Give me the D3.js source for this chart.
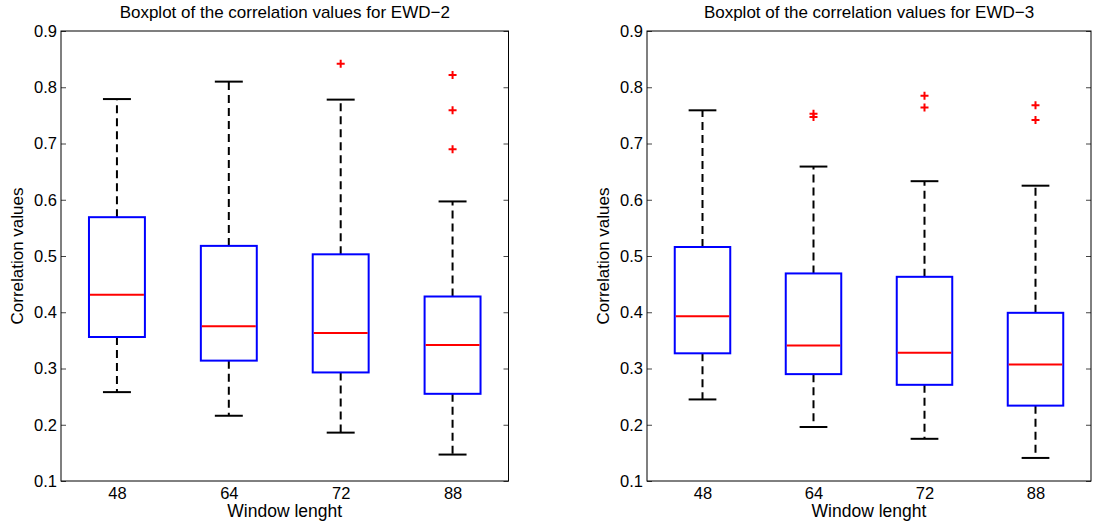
<!DOCTYPE html>
<html>
<head>
<meta charset="utf-8">
<script src="https://cdn.jsdelivr.net/npm/d3@7/dist/d3.min.js"></script>
<style>
  html, body { margin: 0; padding: 0; background: #fff; }
  svg { display: block; font-family: "Liberation Sans", Arial, Helvetica, sans-serif; }
</style>
</head>
<body>
<svg id="chart" width="1097" height="522"></svg>
<script>
// Window lengths on the x axis
const windowLengths = ["48", "64", "72", "88"];
const yTicks = [0.1, 0.2, 0.3, 0.4, 0.5, 0.6, 0.7, 0.8, 0.9];

// EWD-2 box statistics
const ewd2Lower  = [0.258, 0.216, 0.186, 0.147];
const ewd2Q1     = [0.356, 0.314, 0.293, 0.255];
const ewd2Median = [0.431, 0.375, 0.363, 0.342];
const ewd2Q3     = [0.569, 0.518, 0.503, 0.428];
const ewd2Upper  = [0.779, 0.810, 0.778, 0.597];
const ewd2Outliers = [[], [], [0.842], [0.822, 0.759, 0.690]];

// EWD-3 box statistics
const ewd3Lower  = [0.245, 0.196, 0.175, 0.141];
const ewd3Q1     = [0.327, 0.290, 0.271, 0.234];
const ewd3Median = [0.393, 0.341, 0.328, 0.307];
const ewd3Q3     = [0.516, 0.469, 0.463, 0.399];
const ewd3Upper  = [0.759, 0.659, 0.633, 0.625];
const ewd3Outliers = [[], [0.753, 0.747], [0.785, 0.764], [0.768, 0.742]];

const panels = [
  { title: "Boxplot of the correlation values for EWD\u22122", left: 61, right: 508.5,
    lower: ewd2Lower, q1: ewd2Q1, median: ewd2Median, q3: ewd2Q3, upper: ewd2Upper, outliers: ewd2Outliers },
  { title: "Boxplot of the correlation values for EWD\u22123", left: 647, right: 1091,
    lower: ewd3Lower, q1: ewd3Q1, median: ewd3Median, q3: ewd3Q3, upper: ewd3Upper, outliers: ewd3Outliers }
];

const plotTop = 31, plotBottom = 481;
const svg = d3.select("#chart");

panels.forEach(p => {
  const g = svg.append("g");
  const x = d3.scalePoint().domain(windowLengths).range([p.left, p.right]).padding(0.5);
  const y = d3.scaleLinear().domain([0.1, 0.9]).range([plotBottom, plotTop]);
  const step = x.step();
  const boxW = step * 0.5;
  const capW = boxW * 0.5;

  // Left axis: inward ticks with labels
  const yAxis = g.append("g").attr("transform", `translate(${p.left},0)`)
    .call(d3.axisLeft(y).tickValues(yTicks).tickFormat(d3.format(".1f"))
      .tickSizeInner(-5).tickSizeOuter(0).tickPadding(4));
  yAxis.select(".domain").remove();
  yAxis.selectAll(".tick line").attr("stroke", "#444");
  yAxis.selectAll(".tick text").attr("font-size", 16.5).attr("fill", "#000");

  // Right axis: mirrored inward ticks
  const yAxisR = g.append("g").attr("transform", `translate(${p.right},0)`)
    .call(d3.axisRight(y).tickValues(yTicks).tickFormat("")
      .tickSizeInner(-5).tickSizeOuter(0));
  yAxisR.select(".domain").remove();
  yAxisR.selectAll(".tick line").attr("stroke", "#444");

  // Bottom axis labels (no tick marks)
  const xAxis = g.append("g").attr("transform", `translate(0,${plotBottom})`)
    .call(d3.axisBottom(x).tickSize(0).tickPadding(6));
  xAxis.select(".domain").remove();
  xAxis.selectAll(".tick text").attr("font-size", 16.5).attr("fill", "#000");

  // Frame
  g.append("rect")
    .attr("x", p.left).attr("y", plotTop)
    .attr("width", p.right - p.left).attr("height", plotBottom - plotTop)
    .attr("fill", "none").attr("stroke", "#000").attr("stroke-width", 1);

  const boxes = g.selectAll(".box").data(windowLengths).join("g").attr("class", "box");

  // Whiskers (dashed)
  boxes.append("line")
    .attr("x1", d => x(d)).attr("x2", d => x(d))
    .attr("y1", (d, i) => y(p.q3[i])).attr("y2", (d, i) => y(p.upper[i]))
    .attr("stroke", "#000").attr("stroke-width", 2).attr("stroke-dasharray", "8,5");
  boxes.append("line")
    .attr("x1", d => x(d)).attr("x2", d => x(d))
    .attr("y1", (d, i) => y(p.q1[i])).attr("y2", (d, i) => y(p.lower[i]))
    .attr("stroke", "#000").attr("stroke-width", 2).attr("stroke-dasharray", "8,5");

  // Whisker caps
  [p.upper, p.lower].forEach(arr => {
    boxes.append("line")
      .attr("x1", d => x(d) - capW / 2).attr("x2", d => x(d) + capW / 2)
      .attr("y1", (d, i) => y(arr[i])).attr("y2", (d, i) => y(arr[i]))
      .attr("stroke", "#000").attr("stroke-width", 2);
  });

  // Boxes
  boxes.append("rect")
    .attr("x", d => x(d) - boxW / 2).attr("width", boxW)
    .attr("y", (d, i) => y(p.q3[i]))
    .attr("height", (d, i) => y(p.q1[i]) - y(p.q3[i]))
    .attr("fill", "none").attr("stroke", "#0000ff").attr("stroke-width", 2);

  // Medians
  boxes.append("line")
    .attr("x1", d => x(d) - boxW / 2 + 1).attr("x2", d => x(d) + boxW / 2 - 1)
    .attr("y1", (d, i) => y(p.median[i])).attr("y2", (d, i) => y(p.median[i]))
    .attr("stroke", "#ff0000").attr("stroke-width", 2);

  // Outliers as red plus signs
  const pts = [];
  windowLengths.forEach((c, i) => p.outliers[i].forEach(v => pts.push({ c, v })));
  g.selectAll(".outlier").data(pts).join("path")
    .attr("class", "outlier")
    .attr("d", d => {
      const cx = x(d.c), cy = y(d.v), r = 4;
      return `M${cx - r},${cy}H${cx + r}M${cx},${cy - r}V${cy + r}`;
    })
    .attr("stroke", "#ff0000").attr("stroke-width", 2).attr("fill", "none");

  // Title
  g.append("text")
    .attr("x", (p.left + p.right) / 2).attr("y", 18)
    .attr("text-anchor", "middle").attr("font-size", 17).attr("fill", "#000")
    .text(p.title);

  // Axis labels
  g.append("text")
    .attr("x", (p.left + p.right) / 2).attr("y", 517)
    .attr("text-anchor", "middle").attr("font-size", 17.5).attr("fill", "#000")
    .text("Window lenght");
  g.append("text")
    .attr("transform", `translate(${p.left - 38},${(plotTop + plotBottom) / 2}) rotate(-90)`)
    .attr("text-anchor", "middle").attr("font-size", 17).attr("fill", "#000")
    .text("Correlation values");
});
</script>
</body>
</html>
